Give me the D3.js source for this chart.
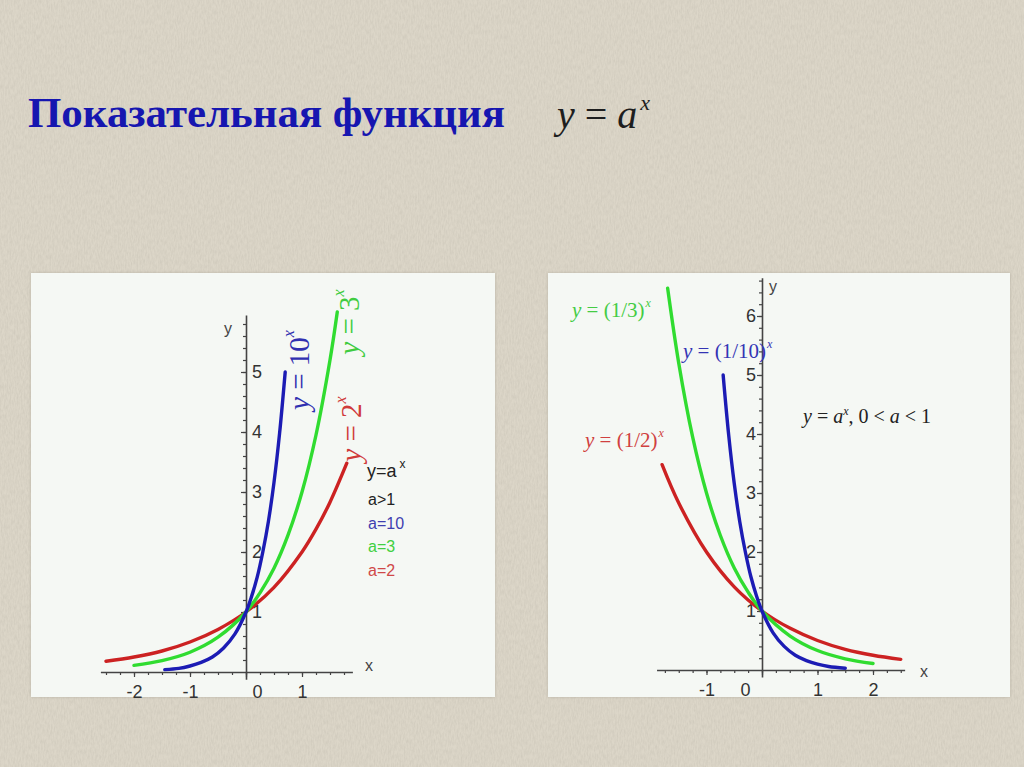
<!DOCTYPE html>
<html><head><meta charset="utf-8">
<script src="https://cdn.jsdelivr.net/npm/d3@7"></script>
<style>body{margin:0;background:#d6d0c1;}svg{display:block;}</style>
</head><body>
<script>
// ---- data ----
// left panel, a > 1
const xA10 = [-1.45,-1.2,-1.0,-0.8,-0.6,-0.4,-0.2,0,0.1,0.2,0.3,0.4,0.5,0.6,0.7];
const yA10 = [0.04,0.06,0.10,0.16,0.25,0.40,0.63,1.0,1.26,1.58,2.0,2.51,3.16,3.98,5.0];
const xA3  = [-2.0,-1.5,-1.0,-0.5,0,0.25,0.5,0.75,1.0,1.25,1.5,1.63];
const yA3  = [0.11,0.19,0.33,0.58,1.0,1.32,1.73,2.28,3.0,3.95,5.2,6.0];
const xA2  = [-2.5,-2.0,-1.5,-1.0,-0.5,0,0.5,1.0,1.25,1.5,1.8];
const yA2  = [0.18,0.25,0.35,0.5,0.71,1.0,1.41,2.0,2.38,2.83,3.48];
// right panel, 0 < a < 1
const xB10 = [-0.7,-0.6,-0.5,-0.4,-0.3,-0.2,-0.1,0,0.2,0.4,0.6,0.8,1.0,1.2,1.5];
const yB10 = [5.0,3.98,3.16,2.51,2.0,1.58,1.26,1.0,0.63,0.4,0.25,0.16,0.1,0.06,0.03];
const xB3  = [-1.7,-1.5,-1.25,-1.0,-0.75,-0.5,-0.25,0,0.5,1.0,1.5,2.0];
const yB3  = [6.47,5.2,3.95,3.0,2.28,1.73,1.32,1.0,0.58,0.33,0.19,0.11];
const xB2  = [-1.8,-1.5,-1.0,-0.5,0,0.5,1.0,1.5,2.0,2.5];
const yB2  = [3.48,2.83,2.0,1.41,1.0,0.71,0.5,0.35,0.25,0.18];
// tick labels
const leftXTicks = [-2,-1,0,1];
const leftYTicks = [1,2,3,4,5];
const rightXTicks = [-1,0,1,2];
const rightYTicks = [1,2,3,4,5,6];
const legendLines = ["a>1","a=10","a=3","a=2"];

const COL = {blue:"#1c1cb4", green:"#30dc30", red:"#cc2222"};

const svg = d3.select("body").append("svg").attr("width",1024).attr("height",767);
const defs = svg.append("defs");
const tex = defs.append("filter").attr("id","tex").attr("x",0).attr("y",0).attr("width","100%").attr("height","100%");
tex.append("feTurbulence").attr("type","fractalNoise").attr("baseFrequency","0.7 0.2").attr("numOctaves",3).attr("seed",4);
tex.append("feColorMatrix").attr("type","matrix").attr("values","0 0 0 0 0.5  0 0 0 0 0.47  0 0 0 0 0.4  -0.6 0 0 0 0.42");
svg.append("rect").attr("width",1024).attr("height",767).attr("fill","#dcd6c8");
svg.append("rect").attr("width",1024).attr("height",767).attr("filter","url(#tex)");

const sh = defs.append("filter").attr("id","sh").attr("x","-5%").attr("y","-5%").attr("width","110%").attr("height","110%");
sh.append("feGaussianBlur").attr("in","SourceAlpha").attr("stdDeviation",1.5).attr("result","b");
sh.append("feFlood").attr("flood-color","#b8b2a4").attr("result","c");
sh.append("feComposite").attr("in","c").attr("in2","b").attr("operator","in").attr("result","s");
const mg = sh.append("feMerge"); mg.append("feMergeNode").attr("in","s"); mg.append("feMergeNode").attr("in","SourceGraphic");

// title
svg.append("text").attr("x",28).attr("y",127)
  .attr("font-family","Liberation Serif, serif").attr("font-weight","bold").attr("font-size",42)
  .attr("fill","#1616b0").attr("textLength",477).attr("lengthAdjust","spacingAndGlyphs")
  .text("Показательная функция");
const f = svg.append("text").attr("x",557).attr("y",128).attr("font-family","Liberation Serif, serif")
  .attr("font-size",40).attr("fill","#1e1e1e");
f.append("tspan").attr("font-style","italic").text("y");
f.append("tspan").text(" = ");
f.append("tspan").attr("font-style","italic").text("a");
f.append("tspan").attr("font-style","italic").attr("font-size",22).attr("dy",-18).attr("dx",3).text("x");

const fmt = d => String(d); // plain hyphen-minus, integers

function panel(o){
  svg.append("rect").attr("x",o.bx).attr("y",273).attr("width",o.bw).attr("height",424)
    .attr("fill","#f5f8f4").attr("filter","url(#sh)");
  const x = d3.scaleLinear().domain(o.xd).range(o.xd.map(v=>o.ox+v*o.ux));
  const y = d3.scaleLinear().domain(o.yd).range(o.yd.map(v=>o.oy-v*o.uy));
  const g = svg.append("g");
  const axCol = "#444";
  const xmin = d3.range(Math.ceil(o.xd[0]*4), Math.floor(o.xd[1]*4)+1).map(v=>v/4);
  const ymin = d3.range(1, Math.floor(o.yd[1]*5)+1).map(v=>v/5);
  const gxm = g.append("g").attr("transform",`translate(0,${y(0)})`)
    .call(d3.axisBottom(x).tickValues(xmin).tickSize(3).tickFormat(""));
  gxm.select(".domain").remove();
  const gym = g.append("g").attr("transform",`translate(${x(0)},0)`)
    .call(d3.axisLeft(y).tickValues(ymin).tickSize(3).tickFormat(""));
  gym.select(".domain").remove();
  const gx = g.append("g").attr("transform",`translate(0,${y(0)})`)
    .call(d3.axisBottom(x).tickValues(o.xt).tickFormat(fmt).tickSize(5).tickSizeOuter(0).tickPadding(8));
  const gy = g.append("g").attr("transform",`translate(${x(0)},0)`)
    .call(d3.axisLeft(y).tickValues(o.yt).tickFormat(fmt).tickSize(5).tickSizeOuter(0));
  g.selectAll("path.domain").attr("stroke",axCol).attr("stroke-width",1.6);
  g.selectAll(".tick line").attr("stroke",axCol).attr("stroke-width",1.2);
  g.selectAll(".tick text").attr("font-family","Liberation Sans, Arial, sans-serif").attr("font-size",18).attr("fill","#333");
  gx.selectAll(".tick text").filter(d=>d===0).attr("dx",o.zeroDx);
  if(o.yLabelsRight){
    gy.selectAll(".tick text").attr("x",6).attr("text-anchor","start");
  } else {
    gy.selectAll(".tick text").attr("x",-6);
  }
  g.append("text").attr("x",o.ylab[0]).attr("y",o.ylab[1]).attr("font-family","Liberation Sans, Arial, sans-serif")
    .attr("font-size",16).attr("fill","#444").text("y");
  g.append("text").attr("x",o.xlab[0]).attr("y",o.xlab[1]).attr("font-family","Liberation Sans, Arial, sans-serif")
    .attr("font-size",16).attr("fill","#444").text("x");
  const line = d3.line().x(d=>x(d[0])).y(d=>y(d[1])).curve(d3.curveCatmullRom);
  o.series.forEach(s=>{
    g.append("path").attr("d", line(d3.zip(s.xs,s.ys))).attr("fill","none")
      .attr("stroke",s.c).attr("stroke-width",3.4).attr("stroke-linecap","round");
  });
  return g;
}

panel({bx:31,bw:464,ox:246,ux:56,oy:672,uy:60,xd:[-2.6,1.9],yd:[-0.12,5.95],
  xt:leftXTicks,yt:leftYTicks,zeroDx:11,yLabelsRight:true,ylab:[224,334],xlab:[365,671],
  series:[{xs:xA2,ys:yA2,c:COL.red},{xs:xA3,ys:yA3,c:COL.green},{xs:xA10,ys:yA10,c:COL.blue}]});
panel({bx:548,bw:462,ox:762,ux:55.5,oy:670,uy:59,xd:[-1.9,2.57],yd:[-0.12,6.65],
  xt:rightXTicks,yt:rightYTicks,zeroDx:-17,yLabelsRight:false,ylab:[769,292],xlab:[920,677],
  series:[{xs:xB2,ys:yB2,c:COL.red},{xs:xB3,ys:yB3,c:COL.green},{xs:xB10,ys:yB10,c:COL.blue}]});

// rotated labels, left panel
function rotLabel(cx,cy,base,col,size){
  const t = svg.append("text").attr("transform",`translate(${cx},${cy}) rotate(-90)`)
    .attr("text-anchor","middle").attr("dominant-baseline","middle")
    .attr("font-family","Liberation Serif, serif").attr("font-size",size).attr("fill",col);
  t.append("tspan").attr("font-style","italic").text("y");
  t.append("tspan").text(" = "+base);
  t.append("tspan").attr("font-style","italic").attr("font-size",size*0.55).attr("dy",-size*0.4).text("x");
}
rotLabel(302,370,"10","#3030b0",29);
rotLabel(352,322,"3","#40cc40",29);
rotLabel(354,429,"2","#d03a3a",29);

// legend, left panel
const lg = svg.append("g").attr("font-family","Liberation Sans, Arial, sans-serif");
const lt = lg.append("text").attr("x",367).attr("y",477).attr("font-size",18).attr("fill","#222");
lt.append("tspan").text("y=a");
lt.append("tspan").attr("font-size",12).attr("dy",-9).attr("dx",3).text("x");
const lcols = ["#222","#4040b0","#40d040","#d04848"];
legendLines.forEach((s,i)=>{
  lg.append("text").attr("x",368).attr("y",505+i*23.5).attr("font-size",16).attr("fill",lcols[i]).text(s);
});

// right panel labels
function eqLabel(x0,y0,base,col){
  const t = svg.append("text").attr("x",x0).attr("y",y0).attr("font-family","Liberation Serif, serif")
    .attr("font-size",21).attr("fill",col);
  t.append("tspan").attr("font-style","italic").text("y");
  t.append("tspan").text(" = ("+base+")");
  t.append("tspan").attr("font-style","italic").attr("font-size",12).attr("dy",-10).attr("dx",1).text("x");
}
eqLabel(572,317,"1/3","#44cc44");
eqLabel(683,358,"1/10","#3434b4");
eqLabel(585,447,"1/2","#d04040");
const q = svg.append("text").attr("x",803).attr("y",423).attr("font-family","Liberation Serif, serif")
  .attr("font-size",20).attr("fill","#222");
q.append("tspan").attr("font-style","italic").text("y");
q.append("tspan").text(" = ");
q.append("tspan").attr("font-style","italic").text("a");
q.append("tspan").attr("font-style","italic").attr("font-size",12).attr("dy",-8).text("x");
q.append("tspan").attr("dy",8).text(", 0 < ");
q.append("tspan").attr("font-style","italic").text("a");
q.append("tspan").text(" < 1");
</script>
</body></html>
